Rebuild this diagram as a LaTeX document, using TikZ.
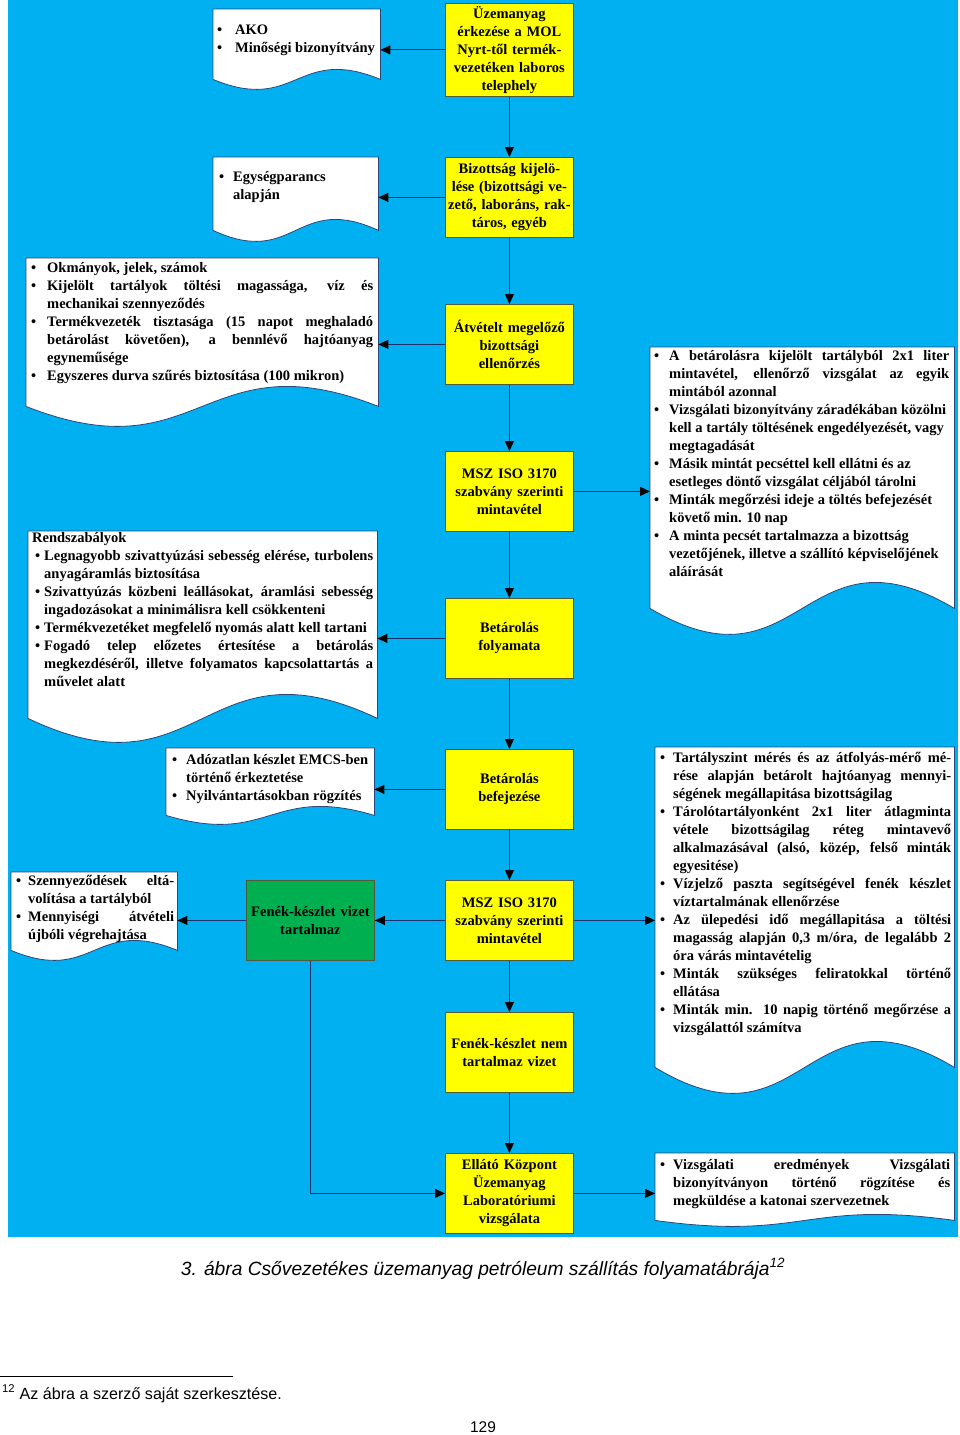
\documentclass[tikz,border=0pt]{standalone}
\usepackage{fontspec}
\setmainfont{Liberation Serif}
\newfontfamily\arialf{Liberation Sans}
\usetikzlibrary{arrows.meta,calc}
\pgfdeclarelayer{bg}
\pgfsetlayers{bg,main}
\definecolor{skyb}{HTML}{00B0F0}
\definecolor{ylw}{HTML}{FFFF00}
\definecolor{grn}{HTML}{00B050}
\definecolor{lnc}{RGB}{25,50,110}
\definecolor{bxc}{RGB}{80,90,60}
\definecolor{dcc}{RGB}{40,70,120}
\newlength\Lp \newlength\Bi \newlength\Rp
\newcommand\BJ[1]{\par\hbox to \hsize{\hskip\Lp\hbox to \Bi{\textbullet\hss}\hbox to \dimexpr\hsize-\Lp-\Bi-\Rp\relax{#1}\hss}}
\newcommand\BL[1]{\par\hbox to \hsize{\hskip\Lp\hbox to \Bi{\textbullet\hss}#1\hss}}
\newcommand\CJ[1]{\par\hbox to \hsize{\hskip\Lp\hskip\Bi\hbox to \dimexpr\hsize-\Lp-\Bi-\Rp\relax{#1}\hss}}
\newcommand\CL[1]{\par\hbox to \hsize{\hskip\Lp\hskip\Bi #1\hss}}
\newcommand\PL[1]{\par\hbox to \hsize{\hskip\Lp #1\hss}}
\newcommand\dtext[5]{\vtop{\hsize=#1pt\relax\Lp=#2pt\relax\Bi=#3pt\relax\Rp=#4pt\relax #5}}
\newcommand\docwave[2]{%
  \begin{pgfonlayer}{bg}
  \path[docline] (#1.north west) -- (#1.north east) -- (#1.south east)
    .. controls ($(#1.south)+(0,3.46*#2)$) and ($(#1.south)+(0,-3.46*#2)$) .. (#1.south west) -- cycle;
  \end{pgfonlayer}}
\tikzset{
  dfont/.style={font=\bfseries\fontsize{14.5}{18}\selectfont},
  ybox/.style={draw=bxc, line width=0.8pt, fill=ylw, minimum width=128pt, minimum height=80pt,
    text width=124pt, align=center, inner sep=0pt, anchor=north west, dfont},
  gbox/.style={ybox, fill=grn},
  docarea/.style={inner sep=0pt, anchor=north west},
  doctext/.style={inner sep=0pt, anchor=base west, dfont},
  docline/.style={draw=dcc, line width=0.8pt, fill=white},
  conn/.style={draw=lnc, line width=1pt, -{Triangle[length=10pt,width=9pt,fill=black,color=black]}},
}
\begin{document}
\begin{tikzpicture}[x=1pt,y=1pt]
\useasboundingbox (0,0) rectangle (960,-1435);
\begin{pgfonlayer}{bg}
\fill[white] (0,0) rectangle (960,-1435);
\fill[skyb] (8,0) rectangle (958,-1237);
\end{pgfonlayer}

% process boxes
\node[ybox, minimum height=93pt] (b1) at (445,-3) {Üzemanyag\\érkezése a MOL\\Nyrt-től termék-\\vezetéken laboros\\telephely};
\node[ybox] (b2) at (445,-157) {Bizottság kijelö-\\lése (bizottsági ve-\\zető, laboráns, rak-\\táros, egyéb};
\node[ybox] (b3) at (445,-304) {Átvételt megelőző\\bizottsági\\ellenőrzés};
\node[ybox] (b4) at (445,-451) {MSZ ISO 3170\\szabvány szerinti\\mintavétel};
\node[ybox] (b5) at (445,-598) {Betárolás\\folyamata};
\node[ybox] (b6) at (445,-749) {Betárolás\\befejezése};
\node[ybox] (b7) at (445,-880) {MSZ ISO 3170\\szabvány szerinti\\mintavétel};
\node[gbox] (g) at (246,-880) {Fenék-készlet vizet\\tartalmaz};
\node[ybox] (b8) at (445,-1012) {Fenék-készlet nem\\tartalmaz vizet};
\node[ybox] (b9) at (445,-1153) {Ellátó Központ\\Üzemanyag\\Laboratóriumi\\vizsgálata};

% documents
\node[docarea, minimum width=167pt, minimum height=70pt] (d1) at (213,-9) {};
\docwave{d1}{10}
\node[doctext] (d1t) at (213,-34.5) {\dtext{167}{4}{18}{3}{%
\BL{AKO}\BL{Minőségi bizonyítvány}}};

\node[docarea, minimum width=165pt, minimum height=73pt] (d2) at (213,-157) {};
\docwave{d2}{11}
\node[doctext] (d2t) at (213,-181.5) {\dtext{165}{6}{14}{3}{%
\BL{Egységparancs}\CL{alapján}}};

\node[docarea, minimum width=352pt, minimum height=148pt] (d3) at (26,-258) {};
\docwave{d3}{20}
\node[doctext] (d3t) at (26,-272.5) {\dtext{352}{5}{16}{5}{%
\BL{Okmányok, jelek, számok}
\BJ{Kijelölt tartályok töltési magassága, víz és}
\CL{mechanikai szennyeződés}
\BJ{Termékvezeték tisztasága (15 napot meghaladó}
\CJ{betárolást követően), a bennlévő hajtóanyag}
\CL{egyneműsége}
\BL{Egyszeres durva szűrés biztosítása (100 mikron)}}};

\node[docarea, minimum width=349pt, minimum height=187pt] (d4) at (28,-531) {};
\docwave{d4}{24}
\node[doctext] (d4t) at (28,-542.5) {\dtext{349}{7}{9}{4}{%
\PL{\hskip-3pt Rendszabályok}
\BJ{Legnagyobb szivattyúzási sebesség elérése, turbolens}
\CL{anyagáramlás biztosítása}
\BJ{Szivattyúzás közbeni leállásokat, áramlási sebesség}
\CL{ingadozásokat a minimálisra kell csökkenteni}
\BL{Termékvezetéket megfelelő nyomás alatt kell tartani}
\BJ{Fogadó telep előzetes értesítése a betárolás}
\CJ{megkezdéséről, illetve folyamatos kapcsolattartás a}
\CL{művelet alatt}}};

\node[docarea, minimum width=304pt, minimum height=261pt] (r1) at (650,-347) {};
\docwave{r1}{26}
\node[doctext] (r1t) at (650,-360.5) {\dtext{304}{4}{15}{5}{%
\BJ{A betárolásra kijelölt tartályból 2x1 liter}
\CJ{mintavétel, ellenőrző vizsgálat az egyik}
\CL{mintából azonnal}
\BL{Vizsgálati bizonyítvány záradékában közölni}
\CL{kell a tartály töltésének engedélyezését, vagy}
\CL{megtagadását}
\BL{Másik mintát pecséttel kell ellátni és az}
\CL{esetleges döntő vizsgálat céljából tárolni}
\BL{Minták megőrzési ideje a töltés befejezését}
\CL{követő min. 10 nap}
\BL{A minta pecsét tartalmazza a bizottság}
\CL{vezetőjének, illetve a szállító képviselőjének}
\CL{aláírását}}};

\node[docarea, minimum width=208pt, minimum height=67pt] (d5) at (166,-748) {};
\docwave{d5}{9}
\node[doctext] (d5t) at (166,-764.5) {\dtext{208}{6}{14}{1}{%
\BL{Adózatlan készlet EMCS-ben}
\CL{történő érkeztetése}
\BL{Nyilvántartásokban rögzítés}}};

\node[docarea, minimum width=166pt, minimum height=78pt] (d6) at (11,-872) {};
\docwave{d6}{10}
\node[doctext] (d6t) at (11,-885.5) {\dtext{166}{5}{12}{3}{%
\BJ{Szennyeződések eltá-}
\CL{volítása a tartályból}
\BJ{Mennyiségi átvételi}
\CL{újbóli végrehajtása}}};

\node[docarea, minimum width=299pt, minimum height=320pt] (r2) at (655,-747) {};
\docwave{r2}{26}
\node[doctext] (r2t) at (655,-762.5) {\dtext{299}{5}{13}{3}{%
\BJ{Tartályszint mérés és az átfolyás-mérő mé-}
\CJ{rése alapján betárolt hajtóanyag mennyi-}
\CL{ségének megállapitása bizottságilag}
\BJ{Tárolótartályonként 2x1 liter átlagminta}
\CJ{vétele bizottságilag réteg mintavevő}
\CJ{alkalmazásával (alsó, közép, felső minták}
\CL{egyesitése)}
\BJ{Vízjelző paszta segítségével fenék készlet}
\CL{víztartalmának ellenőrzése}
\BJ{Az ülepedési idő megállapitása a töltési}
\CJ{magasság alapján 0,3 m/óra, de legalább 2}
\CL{óra várás mintavételig}
\BJ{Minták szükséges feliratokkal történő}
\CL{ellátása}
\BJ{Minták min. 10 napig történő megőrzése a}
\CL{vizsgálattól számítva}}};

\node[docarea, minimum width=299pt, minimum height=67pt] (r3) at (655,-1153) {};
\docwave{r3}{6}
\node[doctext] (r3t) at (655,-1169.5) {\dtext{299}{5}{13}{4}{%
\BJ{Vizsgálati eredmények Vizsgálati}
\CJ{bizonyítványon történő rögzítése és}
\CL{megküldése a katonai szervezetnek}}};

% connectors
\draw[conn] (b1.south) -- (b2.north);
\draw[conn] (b2.south) -- (b3.north);
\draw[conn] (b3.south) -- (b4.north);
\draw[conn] (b4.south) -- (b5.north);
\draw[conn] (b5.south) -- (b6.north);
\draw[conn] (b6.south) -- (b7.north);
\draw[conn] (b7.south) -- (b8.north);
\draw[conn] (b8.south) -- (b9.north);
\draw[conn] (b1.west) -- (b1.west -| d1.east);
\draw[conn] (b2.west) -- (b2.west -| d2.east);
\draw[conn] (b3.west) -- (b3.west -| d3.east);
\draw[conn] (b4.east) -- (b4.east -| r1.west);
\draw[conn] (b5.west) -- (b5.west -| d4.east);
\draw[conn] (b6.west) -- (b6.west -| d5.east);
\draw[conn] (b7.west) -- (g.east);
\draw[conn] (b7.east) -- (b7.east -| r2.west);
\draw[conn] (g.west) -- (g.west -| d6.east);
\draw[conn] (g.south) |- (b9.west);
\draw[conn] (b9.east) -- (b9.east -| r3.west);

% caption and page furniture
\node[anchor=base, font=\arialf\itshape\fontsize{19.2}{22}\selectfont, inner sep=0pt] (cap) at (483,-1275)
  {3. ábra Csővezetékes üzemanyag petróleum szállítás folyamatábrája\textsuperscript{12}};
\coordinate (fnl) at (0,-1376);
\coordinate (fnr) at (233,-1376);
\draw[line width=0.8pt] (fnl) -- (fnr);
\node[anchor=base west, font=\arialf\fontsize{16.1}{18}\selectfont, inner sep=0pt] (fn) at (2,-1399)
  {\textsuperscript{12} Az ábra a szerző saját szerkesztése.};
\node[anchor=base, font=\arialf\fontsize{15.5}{18}\selectfont, inner sep=0pt] (pg) at (483,-1432) {129};
\end{tikzpicture}
\end{document}
